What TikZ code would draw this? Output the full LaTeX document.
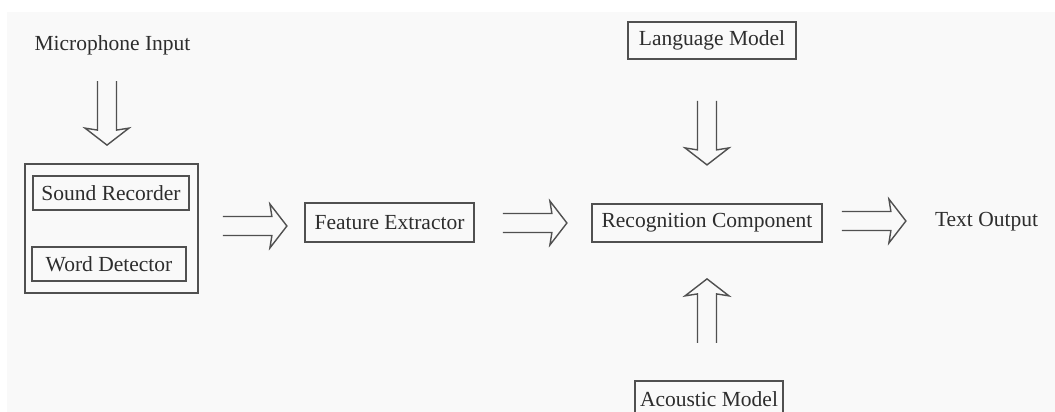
\documentclass[tikz,border=0pt]{standalone}
\usepackage{fontspec}
\setmainfont{Liberation Serif}
\usetikzlibrary{calc}
\definecolor{paper}{RGB}{249,249,249}
\definecolor{ink}{RGB}{45,45,45}
\definecolor{frame}{RGB}{80,80,80}
\begin{document}
\begin{tikzpicture}[x=1pt,y=-1pt,
  every node/.style={font=\fontsize{21.5}{24}\selectfont, text=ink},
  block/.style={draw=frame, line width=1.8pt, inner sep=0pt},
  caption/.style={inner sep=0pt},
  pics/fatarrow/.style={code={
    \draw[frame, line width=1.4pt, line join=miter]
      (0,9.5) -- (49,9.5) -- (47,22) -- (64,0) -- (47,-22) -- (49,-9.5) -- (0,-9.5);}}
]
\useasboundingbox (0,0) rectangle (1055,412);
\clip (0,0) rectangle (1055,412);
\fill[white] (0,0) rectangle (1055,412);
\fill[paper] (7,12) rectangle (1055,412);

% front end: recorder and detector inside one frame
\node[block, minimum width=173pt, minimum height=129pt] (front) at (111.5,228.5) {};
\node[block, minimum width=156pt, minimum height=34pt] (sound) at (111,193) {Sound Recorder};
\node[block, minimum width=154pt, minimum height=34pt] (word) at (109,264) {Word Detector};
\node[caption] (mic) at (112.5,45) {Microphone Input};

% processing chain
\node[block, minimum width=169pt, minimum height=39pt] (feat) at (389.5,222.5) {Feature Extractor};
\node[block, minimum width=230pt, minimum height=38pt] (recog) at (707,223) {Recognition Component};
\node[block, minimum width=168pt, minimum height=37pt] (lang) at (712,40.5) {Language Model};
\node[block, minimum width=148pt, minimum height=37pt] (acou) at (709,399.5) {Acoustic Model};
\node[caption] (out) at (986.5,222) {Text Output};

% hollow block arrows between the stages
\pic[rotate=-90] at ($(front.north)+(-4.5,-82)$) {fatarrow};
\pic at ($(front.east)+(24,-2.5)$) {fatarrow};
\pic at ($(feat.east)+(28,0.5)$) {fatarrow};
\pic at ($(recog.east)+(19,-2)$) {fatarrow};
\pic[rotate=-90] at ($(lang.south)+(-5,41)$) {fatarrow};
\pic[rotate=90] at ($(recog.south)+(0,100)$) {fatarrow};
\end{tikzpicture}
\end{document}
